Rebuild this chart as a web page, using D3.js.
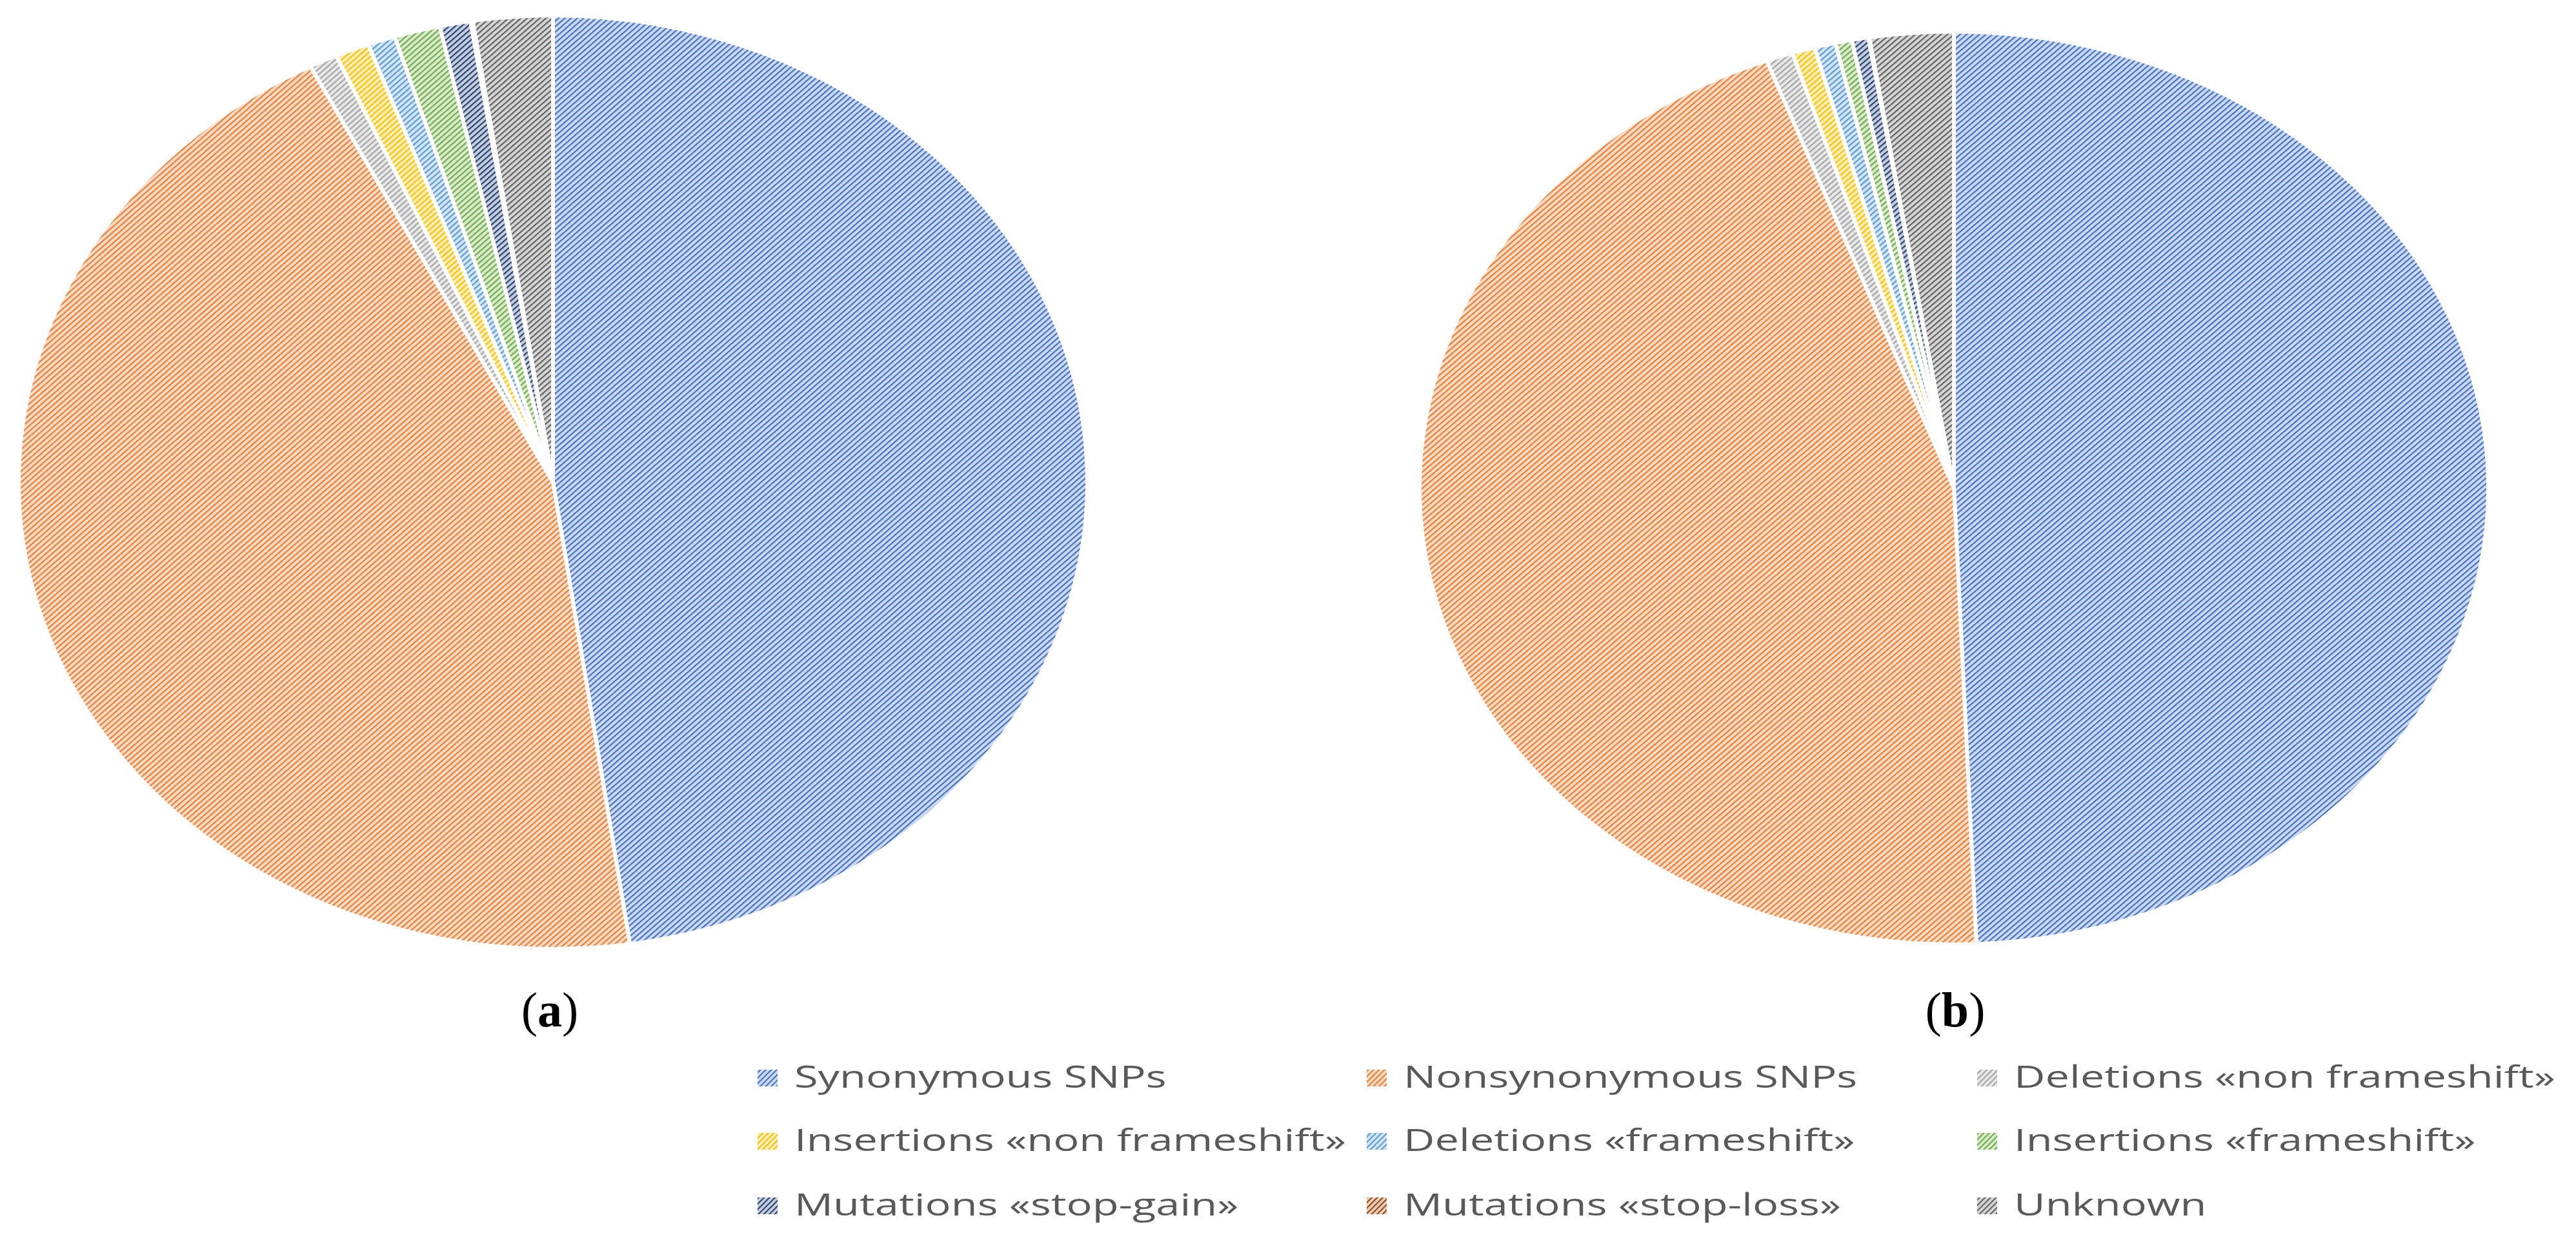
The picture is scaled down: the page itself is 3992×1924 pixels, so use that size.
<!DOCTYPE html>
<html><head><meta charset="utf-8">
<script src="https://cdn.jsdelivr.net/npm/d3@7"></script>
<style>html,body{margin:0;padding:0;background:#fff;overflow:hidden} svg{display:block}</style>
</head><body>
<script>
// ---- data ----
const categories = [
  "Synonymous SNPs", "Nonsynonymous SNPs", "Deletions «non frameshift»",
  "Insertions «non frameshift»", "Deletions «frameshift»", "Insertions «frameshift»",
  "Mutations «stop-gain»", "Mutations «stop-loss»", "Unknown"
];
const valuesA = [47.7, 44.8, 0.85, 1.03, 0.83, 1.39, 0.93, 0.07, 2.4];
const valuesB = [49.33, 44.97, 0.81, 0.69, 0.64, 0.5, 0.5, 0.03, 2.53];
const colors = ["#4472C4", "#ED7D31", "#A5A5A5", "#FFC000", "#5B9BD5", "#70AD47", "#264478", "#9E480E", "#636363"];
const panelLabels = ["a", "b"];

// ---- setup ----
const W = 3992, H = 1924;
const svg = d3.select("body").append("svg").attr("width", W).attr("height", H);
svg.append("rect").attr("width", W).attr("height", H).attr("fill", "#fff");
const defs = svg.append("defs");
function tint(c, t) {
  const a = d3.rgb(c);
  return d3.rgb(a.r + (255 - a.r) * t, a.g + (255 - a.g) * t, a.b + (255 - a.b) * t).formatHex();
}
colors.forEach((c, i) => {
  const p = defs.append("pattern").attr("id", "pat" + i)
    .attr("patternUnits", "userSpaceOnUse").attr("width", 6).attr("height", 6)
    .attr("patternTransform", "rotate(45)");
  p.append("rect").attr("width", 6).attr("height", 6).attr("fill", tint(c, 0.74));
  p.append("rect").attr("width", 2.1).attr("height", 6).attr("fill", c);
});

const pieGen = d3.pie().sort(null).value(d => d);
const panels = [
  { vals: valuesA, cx: 857, cy: 747, rx: 828, ry: 723, lx: 852 },
  { vals: valuesB, cx: 3028, cy: 756, rx: 828, ry: 707, lx: 3030 }
];
panels.forEach((P, k) => {
  const arc = d3.arc().innerRadius(0).outerRadius(P.ry);
  const g = svg.append("g").attr("transform", `translate(${P.cx},${P.cy}) scale(${P.rx / P.ry},1)`);
  g.selectAll("path").data(pieGen(P.vals)).join("path")
    .attr("d", arc)
    .attr("fill", (d, i) => `url(#pat${i})`)
    .attr("stroke", "#fff").attr("stroke-width", 6)
    .attr("vector-effect", "non-scaling-stroke")
    .attr("stroke-linejoin", "round");
  const t = svg.append("text").attr("x", P.lx).attr("y", 1590)
    .attr("text-anchor", "middle")
    .attr("font-family", "'Liberation Serif', 'DejaVu Serif', serif")
    .attr("font-size", 76).attr("fill", "#000");
  t.append("tspan").text("(");
  t.append("tspan").attr("font-weight", "bold").text(panelLabels[k]);
  t.append("tspan").text(")");
});

// ---- legend ----
const colX = [1174, 2118, 3064];
const rowY = [1685, 1783, 1883];
const lg = svg.append("g");
const items = lg.selectAll("g.item").data(categories).join("g").attr("class", "item");
items.append("rect")
  .attr("x", (d, i) => colX[i % 3]).attr("y", (d, i) => rowY[Math.floor(i / 3)] - 28)
  .attr("width", 31).attr("height", 26)
  .attr("fill", (d, i) => `url(#pat${i})`);
const texts = items.append("text")
  .attr("font-family", "'Open Sans', 'Noto Sans', sans-serif")
  .attr("font-size", 47).attr("fill", "#595959")
  .text(d => d);
const refW = texts.nodes()[2].getComputedTextLength();
const kx = 839 / refW;
texts.attr("transform", (d, i) => `translate(${colX[i % 3] + 57},${rowY[Math.floor(i / 3)]}) scale(${kx},1)`);
</script>
</body></html>
